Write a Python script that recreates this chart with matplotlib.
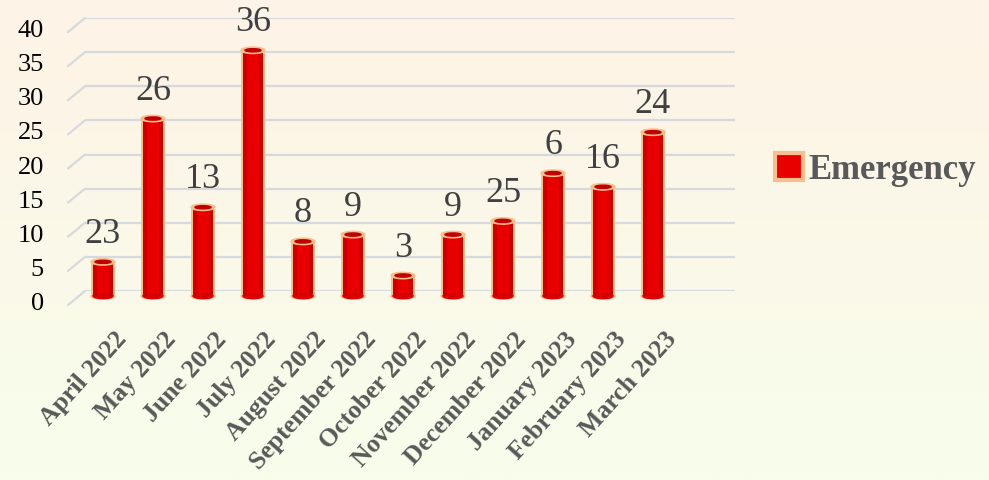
import numpy as np
import matplotlib
matplotlib.use("Agg")
import matplotlib.pyplot as plt
from matplotlib.patches import Ellipse, Patch
from matplotlib.transforms import ScaledTranslation
from matplotlib.colors import LinearSegmentedColormap

# data
months = ["April 2022", "May 2022", "June 2022", "July 2022", "August 2022",
          "September 2022", "October 2022", "November 2022", "December 2022",
          "January 2023", "February 2023", "March 2023"]
heights = [5, 26, 13, 36, 8, 9, 3, 9, 11, 18, 16, 24]
labels = [23, 26, 13, 36, 8, 9, 3, 9, 25, 6, 16, 24]
yticks = [0, 5, 10, 15, 20, 25, 30, 35, 40]
series = "Emergency"

serif = "Liberation Serif"
fig = plt.figure(figsize=(9.89, 4.8), dpi=100)

# background gradient
bg = fig.add_axes([0, 0, 1, 1], zorder=-10)
cmap = LinearSegmentedColormap.from_list("bg", ["#FEF3E6", "#F8FEEC"])
bg.imshow(np.linspace(0, 1, 256).reshape(-1, 1), aspect="auto", cmap=cmap,
          extent=[0, 1, 0, 1])
bg.axis("off")

ax = fig.add_axes([85 / 989, 189 / 480, 650 / 989, 273 / 480])
ax.set_facecolor("none")
ax.set_xlim(-0.52, 12.48)
ax.set_ylim(0, 40)
ax.axis("off")

grid_c = "#D6D9DD"
for v in yticks:
    ax.plot([0, 1], [v, v], transform=ax.get_yaxis_transform(), color=grid_c,
            lw=1.6, zorder=1, solid_capstyle="butt")
    ax.annotate("", xy=(0, v), xycoords=ax.get_yaxis_transform(),
                xytext=(-17, -14), textcoords="offset pixels",
                arrowprops=dict(arrowstyle="-", color=grid_c, lw=1.6,
                                shrinkA=0, shrinkB=0))
    ax.annotate(str(v), xy=(0, v), xycoords=ax.get_yaxis_transform(),
                xytext=(-41, -13), textcoords="offset pixels", ha="right",
                va="center", fontsize=19, family=serif, color="black")

# bars sit in the middle of the depth
shift = ax.transData + ScaledTranslation(-8 / 100, -5 / 100, fig.dpi_scale_trans)
x = np.arange(len(months))
peach = "#F7BE8E"
red = "#E80000"
w_out, w_in = 0.48, 0.40
eh = 0.95

outer = ax.bar(x, heights, width=w_out, color=peach, zorder=2)
inner = ax.bar(x, heights, width=w_in, color=red, zorder=3)
for r in list(outer) + list(inner):
    r.set_transform(shift)
    r.set_clip_on(False)
# darker edges of the cylinder
for side in (-1, 1):
    edge = ax.bar(x + side * w_in * 0.4, heights, width=w_in * 0.2,
                  color="#CC0000", zorder=3.5, lw=0)
    for r in edge:
        r.set_transform(shift)
        r.set_clip_on(False)

for xi, h in zip(x, heights):
    ax.add_patch(Ellipse((xi, 0), w_out, eh, color=peach, zorder=2,
                         transform=shift, clip_on=False))
    ax.add_patch(Ellipse((xi, 0), w_in, eh * 0.8, color="#D80000", zorder=3,
                         transform=shift, clip_on=False))
    ax.add_patch(Ellipse((xi, h), w_out, eh, color=peach, zorder=4,
                         transform=shift, clip_on=False))
    ax.add_patch(Ellipse((xi, h), w_in * 0.8, eh * 0.5, color="#C00000",
                         zorder=5, transform=shift, clip_on=False))

# data labels
for xi, h, lab in zip(x, heights, labels):
    ax.annotate(str(lab), xy=(xi, h), xytext=(-8, 6),
                textcoords="offset pixels", ha="center", va="bottom",
                fontsize=26, family=serif, color="#404040")

# category labels
for xi, m in zip(x, months):
    ax.annotate(m, xy=(xi, 0), xycoords=("data", "axes fraction"),
                xytext=(3, -37), textcoords="offset pixels", rotation=48,
                rotation_mode="anchor", ha="right", va="top", fontsize=18.5,
                fontweight="bold", family=serif, color="#595959")

handle = Patch(facecolor=red, edgecolor=peach, linewidth=3)
fig.legend([handle], [series], loc="center left",
           bbox_to_anchor=(775 / 989, 1 - 170 / 480), frameon=False,
           borderpad=0, borderaxespad=0, handlelength=0.8, handleheight=0.8,
           handletextpad=0.15,
           prop=dict(family=serif, size=25, weight="bold"),
           labelcolor="#595959")

fig.savefig("out.png", dpi=100)
